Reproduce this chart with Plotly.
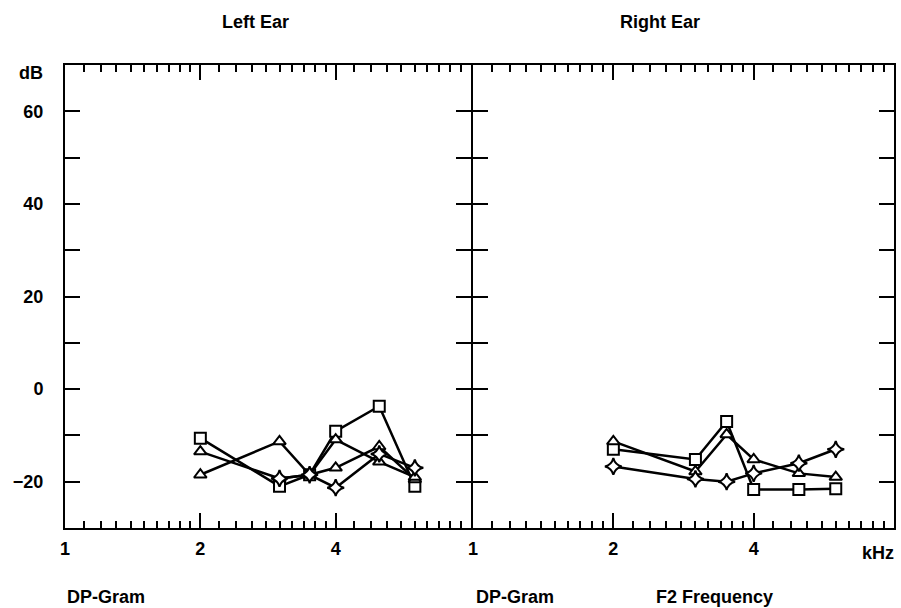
import math
import plotly.graph_objects as go

# ---- data (kHz, dB) ----
left_freq = [2, 3, 3.5, 4, 5, 6]
left_sq = [-10.6, -21, -18.5, -9.1, -3.7, -21]
left_tri_a = [-18.5, -11.3, -18.5, -17, -12.4, -19.5]
left_tri_b = [-13.5, -19.3, -18.5, -10.9, -15.7, -19]
left_star_freq = [3, 3.5, 4, 5, 6]
left_star = [-19.3, -18.5, -21.3, -14, -17]

right_freq = [2, 3, 3.5, 4, 5, 6]
right_sq = [-13, -15.2, -7, -21.7, -21.7, -21.5]
right_tri = [-11.3, -17.8, -9.8, -15.2, -18.2, -19]
right_star = [-16.7, -19.4, -20, -18.2, -16, -13]

x_major = [1, 2, 4]
x_major_text = ["1", "2", "4"]
x_minor = [1.1, 1.2, 1.3, 1.4, 1.5, 1.6, 1.7, 1.8, 1.9,
           2.2, 2.4, 2.6, 2.8, 3.0, 3.2, 3.4, 3.6, 3.8,
           4.4, 4.8, 5.2, 5.6, 6.0, 6.4, 6.8, 7.2, 7.6]
y_ticks = [-30, -20, -10, 0, 10, 20, 30, 40, 50, 60, 70]
y_text = ["", "\u221220", "", "0", "", "20", "", "40", "", "60", ""]

W, H = 901, 608
ML, MR, MT, MB = 65, 5, 65, 80
PW, PH = W - ML - MR, H - MT - MB
split = (472 - ML) / PW

FONT = "Liberation Sans, Arial, sans-serif"

def px(x):
    return (x - ML) / PW

def py(y):
    return (H - MB - y) / PH

line_style = dict(color="black", width=2.5)

def mk(sym, size=11):
    return dict(symbol=sym, size=size, color="white", line=dict(color="black", width=2))

fig = go.Figure()
fig.add_trace(go.Scatter(x=left_freq, y=left_sq, mode="lines+markers", line=line_style,
                         marker=mk("square"), xaxis="x", yaxis="y"))
fig.add_trace(go.Scatter(x=left_freq, y=left_tri_a, mode="lines+markers", line=line_style,
                         marker=mk("triangle-up"), xaxis="x", yaxis="y"))
fig.add_trace(go.Scatter(x=left_freq, y=left_tri_b, mode="lines+markers", line=line_style,
                         marker=mk("triangle-up"), xaxis="x", yaxis="y"))
fig.add_trace(go.Scatter(x=left_star_freq, y=left_star, mode="lines+markers", line=line_style,
                         marker=mk("star-diamond", 12), xaxis="x", yaxis="y"))

fig.add_trace(go.Scatter(x=right_freq, y=right_sq, mode="lines+markers", line=line_style,
                         marker=mk("square"), xaxis="x2", yaxis="y2"))
fig.add_trace(go.Scatter(x=right_freq, y=right_tri, mode="lines+markers", line=line_style,
                         marker=mk("triangle-up"), xaxis="x2", yaxis="y2"))
fig.add_trace(go.Scatter(x=right_freq, y=right_star, mode="lines+markers", line=line_style,
                         marker=mk("star-diamond", 12), xaxis="x2", yaxis="y2"))

tickfont = dict(family=FONT, size=18, color="black", weight="bold")

xcommon = dict(type="log", range=[0, math.log10(8)], showline=True, linecolor="black",
               linewidth=2, mirror="ticks", ticks="inside", ticklen=15, tickwidth=2,
               tickcolor="black", tickvals=x_major, ticktext=x_major_text,
               minor=dict(tickvals=x_minor, ticks="inside", ticklen=7, tickwidth=1.5,
                          tickcolor="black"),
               showgrid=False, zeroline=False, tickfont=tickfont, ticklabelstandoff=3)
ycommon = dict(range=[-30, 70], showline=True, linecolor="black", linewidth=2,
               mirror="ticks", ticks="inside", ticklen=15, tickwidth=2, tickcolor="black",
               tickvals=y_ticks, ticktext=y_text, showgrid=False, zeroline=False,
               tickfont=tickfont)

fig.update_layout(
    width=W, height=H,
    margin=dict(l=ML, r=MR, t=MT, b=MB),
    paper_bgcolor="white", plot_bgcolor="white",
    showlegend=False,
    xaxis=dict(domain=[0, split], anchor="y", **xcommon),
    yaxis=dict(domain=[0, 1], anchor="x", ticklabelstandoff=16, **ycommon),
    xaxis2=dict(domain=[split + 2 / PW, 1], anchor="y2", **xcommon),
    yaxis2=dict(domain=[0, 1], anchor="x2", showticklabels=False, **ycommon),
)

ann_font = dict(family=FONT, size=18, color="black")
texts = [
    ("Left Ear", 256, 22, "center"),
    ("Right Ear", 661, 22, "center"),
    ("dB", 31, 73, "center"),
    ("kHz", 880, 553, "center"),
    ("DP-Gram", 65, 597, "left"),
    ("DP-Gram", 475, 597, "left"),
    ("F2 Frequency", 655, 597, "left"),
]
for t, x, y, al in texts:
    fig.add_annotation(text="<b>%s</b>" % t, x=px(x), y=py(y), xref="paper", yref="paper",
                       xanchor=al, yanchor="middle", showarrow=False, font=ann_font)

fig.write_html("out.html")
